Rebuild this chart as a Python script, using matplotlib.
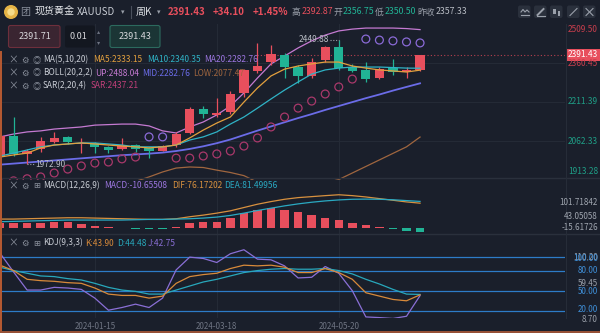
import numpy as np
import pandas as pd
import matplotlib
matplotlib.use("Agg")
import matplotlib.pyplot as plt
import matplotlib.transforms as mtransforms
from matplotlib.patches import FancyBboxPatch, Circle

plt.rcParams["font.family"] = ["Noto Sans CJK SC", "DejaVu Sans"]

# ---- weekly XAUUSD data ----
weeks = pd.date_range("2023-11-27", periods=32, freq="7D")
tick_dates = ["2024-01-15", "2024-03-18", "2024-05-20"]

opens = [2000, 2081, 2013, 2031, 2059, 2076, 2052, 2055, 2040, 2032, 2047, 2034, 2025, 2047, 2092, 2184,
         2160, 2172, 2247, 2329, 2363, 2392, 2344, 2312, 2372, 2423, 2346, 2333, 2302, 2340, 2327, 2335]
highs = [2090, 2153, 2030, 2076, 2098, 2080, 2072, 2059, 2044, 2075, 2052, 2040, 2047, 2097, 2193, 2195,
         2228, 2252, 2336, 2436, 2430, 2398, 2353, 2380, 2425, 2449.88, 2355, 2365, 2345, 2376, 2345, 2392.87]
lows = [1995, 2005, 1972.90, 2020, 2055, 2050, 2016, 2018, 2018, 2028, 2020, 1996, 2023, 2039, 2088, 2152,
        2153, 2165, 2232, 2321, 2353, 2303, 2283, 2302, 2365, 2335, 2325, 2289, 2298, 2314, 2302, 2330]
closes = [2081, 2013, 2025, 2062, 2073, 2057, 2056, 2038, 2028, 2047, 2032, 2023, 2043, 2089, 2184, 2164,
          2170, 2241, 2334, 2349, 2395, 2346, 2311, 2366, 2420, 2340, 2331, 2298, 2336, 2327, 2332, 2391.43]

ma5 = [2001, 2009, 2016, 2036, 2047, 2051, 2055, 2051, 2047, 2043, 2040, 2036, 2040, 2047, 2074, 2104,
       2131, 2154, 2211, 2265, 2311, 2337, 2349, 2357, 2364, 2364, 2349, 2341, 2334, 2330, 2326, 2333.15]
ma10 = [2005, 2016, 2028, 2040, 2047, 2051, 2055, 2055, 2051, 2047, 2040, 2040, 2040, 2047, 2066, 2078,
        2097, 2127, 2154, 2188, 2223, 2257, 2288, 2318, 2334, 2341, 2345, 2345, 2345, 2343, 2341, 2340.35]
boll_mid = [1972, 1976, 1980, 1984, 1988, 1992, 1996, 2000, 2004, 2008, 2011, 2014, 2018, 2024, 2032, 2042,
            2054, 2068, 2085, 2102, 2118, 2134, 2150, 2165, 2181, 2196, 2211, 2226, 2240, 2255, 2269, 2282.76]
boll_up = [2078, 2089, 2097, 2101, 2108, 2112, 2116, 2123, 2125, 2127, 2127, 2120, 2101, 2093, 2116, 2135,
           2162, 2196, 2246, 2303, 2357, 2387, 2418, 2445, 2467, 2483, 2490, 2494, 2494, 2494, 2492, 2488.04]
boll_low = [1880, 1884, 1888, 1892, 1895, 1898, 1900, 1903, 1905, 1907, 1908, 1925, 1944, 1959, 1963, 1961,
            1951, 1942, 1930, 1905, 1885, 1875, 1878, 1890, 1902, 1915, 1940, 1965, 1990, 2015, 2040, 2077.47]
sar = [1900, 1910, 1918, 1925, 1940, 1955, 1967, 1978, 1982, 1994, 2001, 2078, 2078, 1997, 1997, 2005,
       2013, 2024, 2043, 2074, 2116, 2154, 2188, 2215, 2242, 2269, 2299, 2452, 2448, 2445, 2441, 2437.21]

macd_hist = [15, 15, 17, 17, 20, 20, 13, 8, 3, 2, -3, -3, -1.5, 5, 15, 20,
             20, 32, 45, 55, 61, 55, 48, 39, 30, 24, 16, 9, 4, -3, -8, -10.66]
dif = [28, 28, 29, 30, 31, 32, 32, 31, 30, 29, 28, 27, 27, 29, 35, 40,
       46, 53, 63, 73, 81, 88, 93, 96, 99, 101.7, 99, 95, 90, 85, 80, 76.17]
dea = [20, 21, 22, 23, 24, 25, 25, 25, 25, 25, 26, 27, 27, 28, 29, 31,
       34, 39, 46, 54, 61, 68, 74, 79, 83, 86, 88, 88.5, 88, 86.5, 84, 81.50]

k_line = [88, 80, 67, 65, 64, 62, 61, 54, 45, 43, 43, 39, 42, 61, 71, 74,
          76, 83, 88, 87, 88, 85, 77, 77, 83, 77, 67, 47, 42, 37, 35, 43.90]
d_line = [85, 80, 76, 72, 71, 68, 66, 61, 55, 51, 49, 45, 45, 51, 57, 63,
          67, 72, 77, 80, 82, 83, 82, 82, 83, 80, 75, 67, 60, 52, 45, 44.48]
j_line = [106, 78, 51, 51, 55, 54, 52, 39, 21, 25, 30, 25, 39, 81, 100, 98,
          92, 105, 111, 97, 96, 87, 69, 70, 86, 76, 50, 11, 10, 8.7, 12, 42.75]
kdj_levels = [100, 80, 50, 20]

# ---- colours ----
W, H = 600, 333
BG = "#1a1f2b"
RED = "#e84f5d"
GREEN = "#21b395"
GRID = "#242a36"
GRAY = "#9aa0aa"
C_MA5 = "#e3a03e"
C_MA10 = "#2fb3c6"
C_MA20 = "#9c76e0"
C_UP = "#c57ad2"
C_MID = "#6b6ce8"
C_LOW = "#a0663f"
C_SAR = "#c2407a"
C_SAR_DN = "#a8386a"
C_SAR_UP = "#8a6ad6"
C_LEVEL = "#2d7cc8"

x = np.arange(len(closes))
PX = 13.55  # pixels per candle
XMAX = 565 / PX

fig = plt.figure(figsize=(W / 100, H / 100), dpi=100, facecolor=BG)


def panel(top, bottom, ylim):
    ax = fig.add_axes([0, 1 - bottom / H, 565 / W, (bottom - top) / H])
    ax.set_facecolor(BG)
    ax.set_xlim(0, XMAX)
    ax.set_ylim(*ylim)
    for s in ax.spines.values():
        s.set_visible(False)
    ax.set_xticks([])
    ax.set_yticks([])
    return ax


ax = panel(24, 180, (1913.28, 2509.50))
ax_macd = panel(180, 233, (-14.2, 146.4))
ax_kdj = panel(233, 318, (9.4, 135.9))

tick_idx = [list(weeks.strftime("%Y-%m-%d")).index(d) for d in tick_dates]
for a in (ax, ax_macd, ax_kdj):
    for t in tick_idx:
        a.axvline(t, color=GRID, lw=0.8, zorder=0)

# ---- main price panel ----
for lvl in (2360.45, 2211.39, 2062.33):
    ax.axhline(lvl, color=GRID, lw=0.8, zorder=0)

o, c, hi, lo = map(np.array, (opens, closes, highs, lows))
up = c >= o
cols = np.where(up, RED, GREEN)
ax.vlines(x, lo, hi, colors=cols, lw=0.9, zorder=3)
body = np.maximum(np.abs(c - o), 3)
ax.bar(x, body, bottom=np.minimum(o, c), width=0.68, color=cols, zorder=4)

ax.plot(x, boll_low, color=C_LOW, lw=0.9, zorder=2)
ax.plot(x, boll_up, color=C_UP, lw=0.9, zorder=2)
ax.plot(x, boll_mid, color=C_MID, lw=1.3, zorder=2)
ax.plot(x, ma10, color=C_MA10, lw=0.9, zorder=5)
ax.plot(x, ma5, color=C_MA5, lw=0.9, zorder=5)

sar_a = np.array(sar)
sar_cols = np.where(sar_a > c, C_SAR_UP, C_SAR_DN)
ax.scatter(x, sar_a, s=32, facecolors="none", edgecolors=sar_cols, linewidths=0.9, zorder=5)

# current price dotted line
ax.hlines(closes[-1], 19.0, XMAX, colors="#b6404f", lw=0.8, linestyles=(0, (1, 2)), zorder=1)

# high / low markers
i_hi = int(np.argmax(hi))
i_lo = int(np.argmin(lo))
ax.hlines(hi[i_hi], i_hi - 0.65, i_hi, colors=GRAY, lw=0.8, linestyles=(0, (1, 1.5)), zorder=6)
ax.text(i_hi - 0.7, hi[i_hi], f"{hi[i_hi]:.2f}", color="#b8bcc4", fontsize=6, ha="right", va="center", zorder=6)
ax.hlines(lo[i_lo], i_lo, i_lo + 0.6, colors=GRAY, lw=0.8, linestyles=(0, (1, 1.5)), zorder=6)
ax.text(i_lo + 0.6, lo[i_lo], f"{lo[i_lo]:.2f}", color="#b8bcc4", fontsize=6, ha="left", va="center", zorder=6)

# ---- MACD panel ----
hist = np.array(macd_hist)
ax_macd.bar(x, hist, width=0.62, color=np.where(hist >= 0, RED, GREEN), zorder=2)
ax_macd.plot(x, dif, color="#d8913f", lw=0.9, zorder=3)
ax_macd.plot(x, dea, color="#2aa9c2", lw=0.9, zorder=3)

# ---- KDJ panel ----
for lvl in kdj_levels:
    ax_kdj.axhline(lvl, color=C_LEVEL, lw=0.9, zorder=1)
ax_kdj.plot(x, j_line, color="#8a6fd6", lw=0.9, zorder=3)
ax_kdj.plot(x, d_line, color="#28a8bc", lw=0.9, zorder=3)
ax_kdj.plot(x, k_line, color="#d88a3a", lw=0.9, zorder=3)

trans = mtransforms.blended_transform_factory(ax_kdj.transData, ax_kdj.transAxes)
for t, d in zip(tick_idx, tick_dates):
    ax_kdj.text(t, -0.1, d, transform=trans, color="#6e7482", fontsize=5.8, ha="center", va="center", clip_on=False)

# ---- overlay (pixel coordinates) ----
ov = fig.add_axes([0, 0, 1, 1], zorder=10)
ov.set_xlim(0, W)
ov.set_ylim(H, 0)
ov.axis("off")
ov.patch.set_alpha(0)


def txt(px, py, s, color, size=6, ha="left", weight="normal"):
    ov.text(px, py, s, color=color, fontsize=size, ha=ha, va="center", fontweight=weight)


# panel separators and frame
ov.plot([0, W], [178, 178], color="#2a303c", lw=1)
ov.plot([0, W], [233.5, 233.5], color="#2a303c", lw=1)
ov.plot([565.5, 565.5], [24, 318], color="#262c38", lw=0.8)
ov.plot([0.6, 0.6], [52, H], color="#b85a32", lw=1.4)
ov.plot([0, W], [332.3, 332.3], color="#9a5236", lw=1.4)

# header
ov.add_patch(Circle((11, 12), 6.3, color="#e6b446"))
ov.add_patch(Circle((11, 12), 3.0, color="#f6dc8a"))
txt(20, 12, "团", "#8a909c", 7.2)
txt(35, 12, "现货黄金", "#e6e8ec", 7.2)
txt(77, 12, "XAUUSD", "#c8ccd4", 7.0)
txt(121, 12, "▾", GRAY, 5)
ov.plot([131, 131], [6, 18], color="#4a505c", lw=0.8)
txt(136, 12, "周K", "#d8dbe0", 7.2)
txt(157, 12, "▾", GRAY, 5)
txt(168, 12, "2391.43", RED, 7.0, weight="bold")
txt(213, 12, "+34.10", RED, 7.0, weight="bold")
txt(253, 12, "+1.45%", RED, 7.0, weight="bold")
txt(292, 12, "高", GRAY, 6.3)
txt(302, 12, "2392.87", RED, 6.3)
txt(333, 12, "开", GRAY, 6.3)
txt(343, 12, "2356.75", GREEN, 6.3)
txt(375, 12, "低", GRAY, 6.3)
txt(385, 12, "2350.50", GREEN, 6.3)
txt(417, 12, "昨收", GRAY, 6.3)
txt(436, 12, "2357.33", "#b8bcc4", 6.3)

for bx in (518, 534, 550, 567, 583):
    ov.add_patch(FancyBboxPatch((bx, 5.5), 12.5, 12.5, boxstyle="round,pad=0,rounding_size=2",
                                fc="#2a303c", ec="none"))
ov.plot([521, 523, 525, 527, 529], [12, 9.5, 12, 10, 12], color=GRAY, lw=0.8)
ov.plot([521, 529], [15, 15], color=GRAY, lw=0.8)
ov.plot([537.5, 543.5], [15, 9], color=GRAY, lw=1.4)
ov.plot([537, 545], [16, 16], color=GRAY, lw=0.8)
ov.add_patch(FancyBboxPatch((553, 9), 2.6, 5, boxstyle="square,pad=0", fc=GRAY, ec="none"))
ov.add_patch(FancyBboxPatch((557.5, 10.5), 2.6, 5, boxstyle="square,pad=0", fc=GRAY, ec="none"))
ov.plot([570, 577], [15.5, 8.5], color=GRAY, lw=0.8)
ov.plot([586, 593], [8.5, 15.5], color=GRAY, lw=0.8)
ov.plot([586, 593], [15.5, 8.5], color=GRAY, lw=0.8)

# price input boxes
ov.add_patch(FancyBboxPatch((8.5, 25.5), 51.5, 22, boxstyle="round,pad=0,rounding_size=2",
                            fc="#3a2531", ec="#6e2f3c", lw=0.8))
txt(34.5, 36.5, "2391.71", "#d8d8dc", 6.5, ha="center")
ov.add_patch(FancyBboxPatch((65, 25.5), 30, 22, boxstyle="round,pad=0,rounding_size=2",
                            fc="#131720", ec="none"))
txt(70, 36.5, "0.01", "#d8d8dc", 6.5)
txt(98.5, 31, "▴", "#6e7482", 4.5, ha="center")
txt(98.5, 42, "▾", "#6e7482", 4.5, ha="center")
ov.add_patch(FancyBboxPatch((110, 25.5), 50, 22, boxstyle="round,pad=0,rounding_size=2",
                            fc="#1b3535", ec="#2c6a5e", lw=0.8))
txt(135, 36.5, "2391.43", "#d8d8dc", 6.5, ha="center")

# indicator legends
ICON = "#8a909c"
for ry, a, b in ((60, "⚙", "◎"), (73, "⚙", "◎"), (86, "⚙", "◎"), (186, "⚙", "⊞"), (243, "⚙", "⊞")):
    txt(13.5, ry, "×", ICON, 7, ha="center")
    txt(25, ry, a, ICON, 6, ha="center")
    txt(37, ry, b, ICON, 6, ha="center")

LBL = "#c8ccd4"
txt(43, 60, "MA(5,10,20)", LBL)
txt(93, 60, "MA5:2333.15", C_MA5)
txt(147, 60, "MA10:2340.35", C_MA10)
txt(204, 60, "MA20:2282.76", C_MA20)
txt(43, 73, "BOLL(20,2,2)", LBL)
txt(95, 73, "UP:2488.04", C_UP)
txt(142, 73, "MID:2282.76", C_MID)
txt(193, 73, "LOW:2077.47", C_LOW)
txt(43, 86, "SAR(2,20,4)", LBL)
txt(91, 86, "SAR:2437.21", C_SAR)

txt(43, 186, "MACD(12,26,9)", LBL)
txt(104, 186, "MACD:-10.65508", C_MA20)
txt(172, 186, "DIF:76.17202", "#d8913f")
txt(224, 186, "DEA:81.49956", "#2aa9c2")

txt(43, 243, "KDJ(9,3,3)", LBL)
txt(85, 243, "K:43.90", "#d88a3a")
txt(117, 243, "D:44.48", "#28a8bc")
txt(148, 243, "J:42.75", "#8a6fd6")

# right-hand scale labels
RX = 598
txt(RX, 30, "2509.50", "#c83e4d", 6, ha="right")
txt(RX, 63.5, "2360.45", "#c83e4d", 6, ha="right")
txt(RX, 102, "2211.39", "#1f9e86", 6, ha="right")
txt(RX, 141, "2062.33", "#1f9e86", 6, ha="right")
txt(RX, 171, "1913.28", "#1f9e86", 6, ha="right")
ov.add_patch(FancyBboxPatch((566, 48.5), 34, 12, boxstyle="square,pad=0", fc=RED, ec="none"))
txt(RX, 54.5, "2391.43", "white", 6, ha="right")

txt(RX, 202.5, "101.71842", "#a0a6b0", 5.8, ha="right")
txt(RX, 216.7, "43.05058", "#a0a6b0", 5.8, ha="right")
txt(RX, 227.7, "-15.61726", "#a0a6b0", 5.8, ha="right")

txt(RX, 257.5, "110.20", GRAY, 5.8, ha="right")
txt(RX, 258.5, "100.00", "#3f8fd8", 5.8, ha="right")
txt(RX, 270.7, "80.00", "#3f8fd8", 5.8, ha="right")
txt(RX, 284, "59.45", GRAY, 5.8, ha="right")
txt(RX, 291.5, "50.00", "#3f8fd8", 5.8, ha="right")
txt(RX, 309.5, "20.00", "#3f8fd8", 5.8, ha="right")
txt(RX, 319, "8.70", GRAY, 5.8, ha="right")

fig.savefig("out.png", dpi=100, facecolor=BG)
